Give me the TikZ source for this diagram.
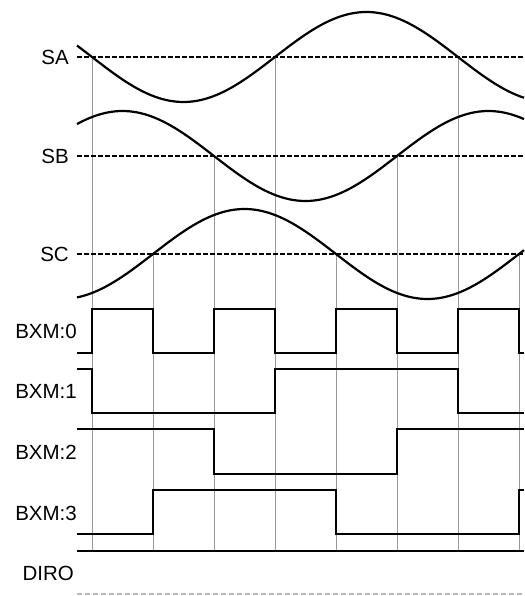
\documentclass[tikz,border=0pt]{standalone}
\usepackage{fontspec}
\setmainfont{Liberation Sans}
\usetikzlibrary{calc}

\begin{document}
\begin{tikzpicture}[x=1pt, y=-1pt,
  lbl/.style={anchor=east, inner sep=0pt, font=\fontsize{20.5}{22}\selectfont},
  wave/.style={line width=2.2pt},
  mid/.style={line width=2pt, dash pattern=on 4.5pt off 2.5pt},
  sq/.style={line width=2.8pt, line join=miter},
  grid/.style={line width=1pt, color=black!40}]
\useasboundingbox (0,0) rectangle (524,596);
\foreach \x/\y in {92/57, 153/254, 214/156, 275/57, 336/254, 397/156, 458/57, 519/254}
  \draw[grid] (\x,\y) -- (\x,550);
\draw[mid] (77,57) -- (524,57); 
\draw[mid] (77,156) -- (524,156); 
\draw[mid] (77,254) -- (524,254);
\draw[wave] plot[domain=77:524, samples=120] (\x, {57+45*sin(0.98361*(\x-92))});
\draw[wave] plot[domain=77:524, samples=120] (\x, {156+45*sin(0.98361*(\x-214))});
\draw[wave] plot[domain=77:524, samples=120] (\x, {254-45*sin(0.98361*(\x-153))});
\node[lbl] (sa) at (69,57) {SA}; 
\node[lbl] (sb) at (69,156) {SB}; 
\node[lbl] (sc) at (69,254) {SC}; 

\draw[sq] (77,353) -- (92,353) -- (92,309) -- (153,309) -- (153,353) -- (214,353) -- (214,309) -- (275,309) -- (275,353) -- (336,353) -- (336,309) -- (397,309) -- (397,353) -- (458,353) -- (458,309) -- (519,309) -- (519,353) -- (524,353);
\draw[sq] (77,369) -- (92,369) -- (92,413) -- (275,413) -- (275,369) -- (458,369) -- (458,413) -- (524,413);
\draw[sq] (77,429) -- (214,429) -- (214,474) -- (397,474) -- (397,429) -- (524,429);
\draw[sq] (77,534) -- (153,534) -- (153,490) -- (336,490) -- (336,534) -- (519,534) -- (519,490) -- (524,490);
\draw[sq] (77,551) -- (524,551);
\draw[line width=1.3pt, color=black!28, dash pattern=on 5pt off 3pt] (77,594) -- (524,594);
\node[lbl] (bxm0) at (77,331) {BXM:0}; 
\node[lbl] (bxm1) at (77,391) {BXM:1}; 
\node[lbl] (bxm2) at (77,452) {BXM:2}; 
\node[lbl] (bxm3) at (77,513) {BXM:3}; 
\node[lbl] (diro) at (74,573) {DIRO}; 
\end{tikzpicture}
\end{document}
